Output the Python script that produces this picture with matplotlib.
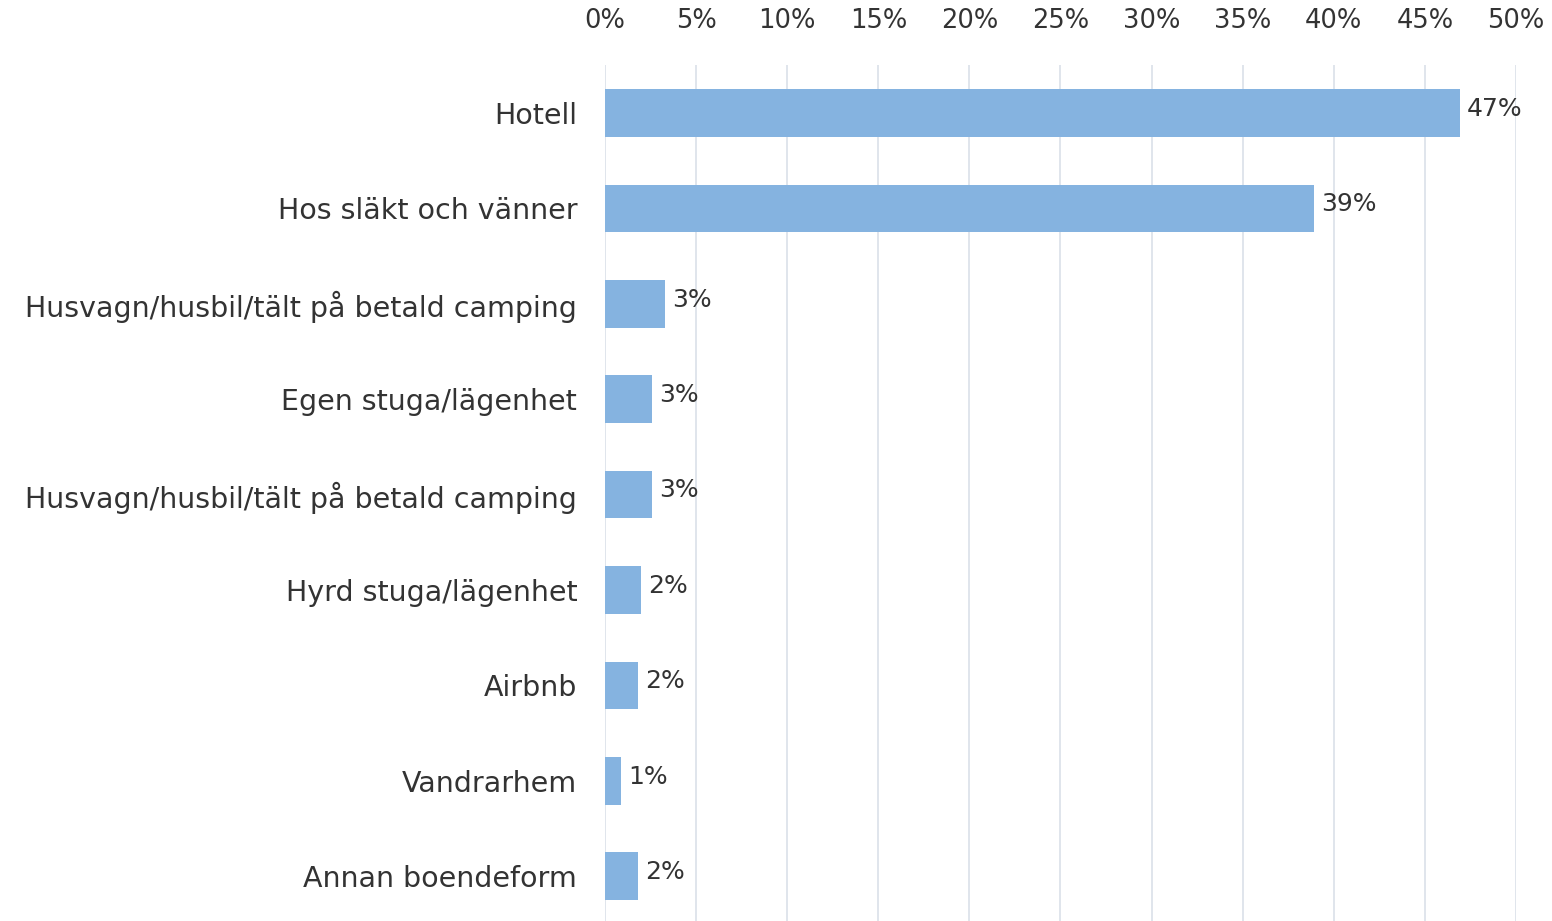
import matplotlib.pyplot as plt
import numpy as np

categories = ["Hotell", "Hos släkt och vänner", "Husvagn/husbil/tält på betald camping",
              "Egen stuga/lägenhet", "Husvagn/husbil/tält på betald camping",
              "Hyrd stuga/lägenhet", "Airbnb", "Vandrarhem", "Annan boendeform"]
values = [46.9, 38.9, 3.3, 2.6, 2.6, 2.0, 1.8, 0.9, 1.8]
labels = ["47%", "39%", "3%", "3%", "3%", "2%", "2%", "1%", "2%"]
ticks = np.arange(0, 51, 5)

plt.rcParams['font.family'] = ['DejaVu Sans']
txt = "#333333"

fig = plt.figure(figsize=(15.52, 9.21), dpi=100)
ax = fig.add_axes([0.3898, 0.0, 0.5870, 0.9294])

y = np.arange(len(categories))
ax.barh(y, values, height=0.5, color="#85B3E0", zorder=2)
for yi, v, lab in zip(y, values, labels):
    ax.annotate(lab, (v, yi), xytext=(5, 3), textcoords="offset points",
                ha="left", va="center", fontsize=18, color=txt, zorder=3)

ax.set_xlim(0, 50)
ax.set_ylim(8.47, -0.503)
ax.set_xticks(ticks)
ax.set_xticklabels([f"{t}%" for t in ticks])
ax.set_yticks(y)
ax.set_yticklabels(categories)
ax.xaxis.tick_top()
ax.tick_params(axis="x", length=0, pad=22, labelsize=18.5, labelcolor=txt)
ax.tick_params(axis="y", length=0, pad=20, labelsize=20.5, labelcolor=txt)
ax.grid(axis="x", color="#DDE3EA", linewidth=1.3, zorder=0)
ax.set_axisbelow(True)
for s in ax.spines.values():
    s.set_visible(False)

fig.savefig("out.png", dpi=100)
